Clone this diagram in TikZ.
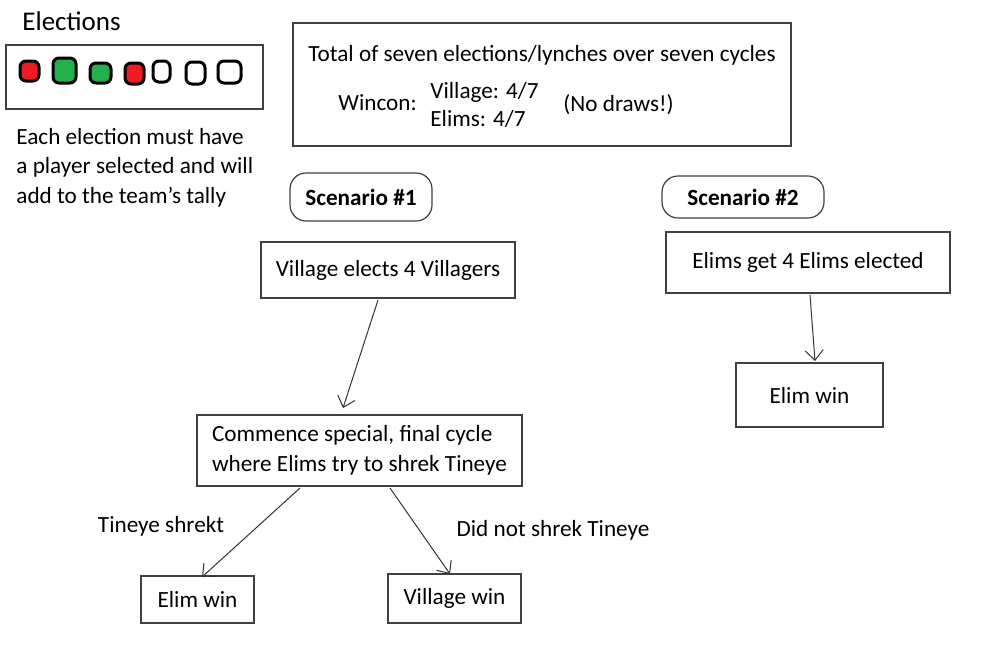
\documentclass[tikz,border=0pt]{standalone}
\usepackage{fontspec}
\setmainfont{Carlito}
\usetikzlibrary{arrows.meta}
\definecolor{pgreen}{HTML}{22B14C}
\definecolor{pred}{HTML}{ED1C24}
\begin{document}
\begin{tikzpicture}[x=0.5pt,y=-0.5pt,
  box/.style={draw=black!75,line width=0.6pt},
  txt/.style={font=\fontsize{11.6}{13}\selectfont,inner sep=0pt},
  arr/.style={draw=black!80,line width=0.5pt,-{Straight Barb[length=5pt,width=9pt]}},
  red/.style={fill=pred,draw=black,line width=1.5pt,rounded corners=3pt},
  grn/.style={fill=pgreen,draw=black,line width=1.5pt,rounded corners=3pt},
  wht/.style={fill=white,draw=black,line width=1.5pt,rounded corners=3pt}]
\useasboundingbox (0,0) rectangle (1000,654);
\fill[white] (0,0) rectangle (1000,654);
\node[txt,anchor=west,font=\fontsize{13.5}{15}\selectfont] (title) at (22,21) {Elections};
\draw[box] (6,45) rectangle (263,109);
\draw[red] (20,61) rectangle (39,81);
\draw[grn] (53,58) rectangle (76,83);
\draw[grn] (90,63) rectangle (111,83);
\draw[red] (125,63) rectangle (144,84);
\draw[wht] (153,61) rectangle (170,82);
\draw[wht] (186,62) rectangle (205,84);
\draw[wht] (218,61) rectangle (241,83);
\node[txt,anchor=west] (e1) at (16,137) {Each election must have};
\node[txt,anchor=west] (e2) at (16,167) {a player selected and will};
\node[txt,anchor=west] (e3) at (16,197) {add to the team's tally};
\draw[box] (293,23) rectangle (791,146);
\node[txt] (tot) at (542,55) {Total of seven elections/lynches over seven cycles};
\node[txt,anchor=west] (win) at (338,103) {Wincon:};
\node[txt,anchor=west] (vil) at (430,92) {Village: 4/7};
\node[txt,anchor=west] (eli) at (430,119) {Elims: 4/7};
\node[txt,anchor=west] (nod) at (563,105) {(No draws!)};
\node[box,rounded corners=8pt,minimum width=71pt,minimum height=24pt,txt,font=\fontsize{11.6}{13}\selectfont\bfseries] (s1) at (361,197) {Scenario \#1};
\node[box,rounded corners=8pt,minimum width=81pt,minimum height=21pt,txt,font=\fontsize{11.6}{13}\selectfont\bfseries] (s2) at (743,197) {Scenario \#2};
\node[box,minimum width=127pt,minimum height=28pt,txt] (v4) at (388,270) {Village elects 4 Villagers};
\node[box,minimum width=142pt,minimum height=30.5pt,txt] (e4) at (808,262.5) {Elims get 4 Elims elected};
\node[box,minimum width=73.5pt,minimum height=32pt,txt] (ew) at (809.5,395) {Elim win};
\node[box,minimum width=162.5pt,minimum height=35.5pt,txt,align=left] (cm) at (359.5,450.5) {Commence special, final cycle\\[2pt]where Elims try to shrek Tineye};
\node[box,minimum width=56.5pt,minimum height=23.5pt,txt] (ew2) at (197.5,599.5) {Elim win};
\node[box,minimum width=66.5pt,minimum height=24.5pt,txt] (vw) at (454.5,598.5) {Village win};
\coordinate (a1s) at (378,300); \coordinate (a1e) at (343,408);
\coordinate (a2s) at (810,295); \coordinate (a2e) at (815,361);
\coordinate (a3s) at (300,488); \coordinate (a3e) at (202,577);
\coordinate (a4s) at (390,488); \coordinate (a4e) at (450,574);
\draw[arr] (a1s) -- (a1e);
\draw[arr] (a2s) -- (a2e);
\draw[arr] (a3s) -- (a3e);
\draw[arr] (a4s) -- (a4e);
\node[txt] (l1) at (161,526) {Tineye shrekt};
\node[txt] (l2) at (553,530) {Did not shrek Tineye};
\end{tikzpicture}
\end{document}
